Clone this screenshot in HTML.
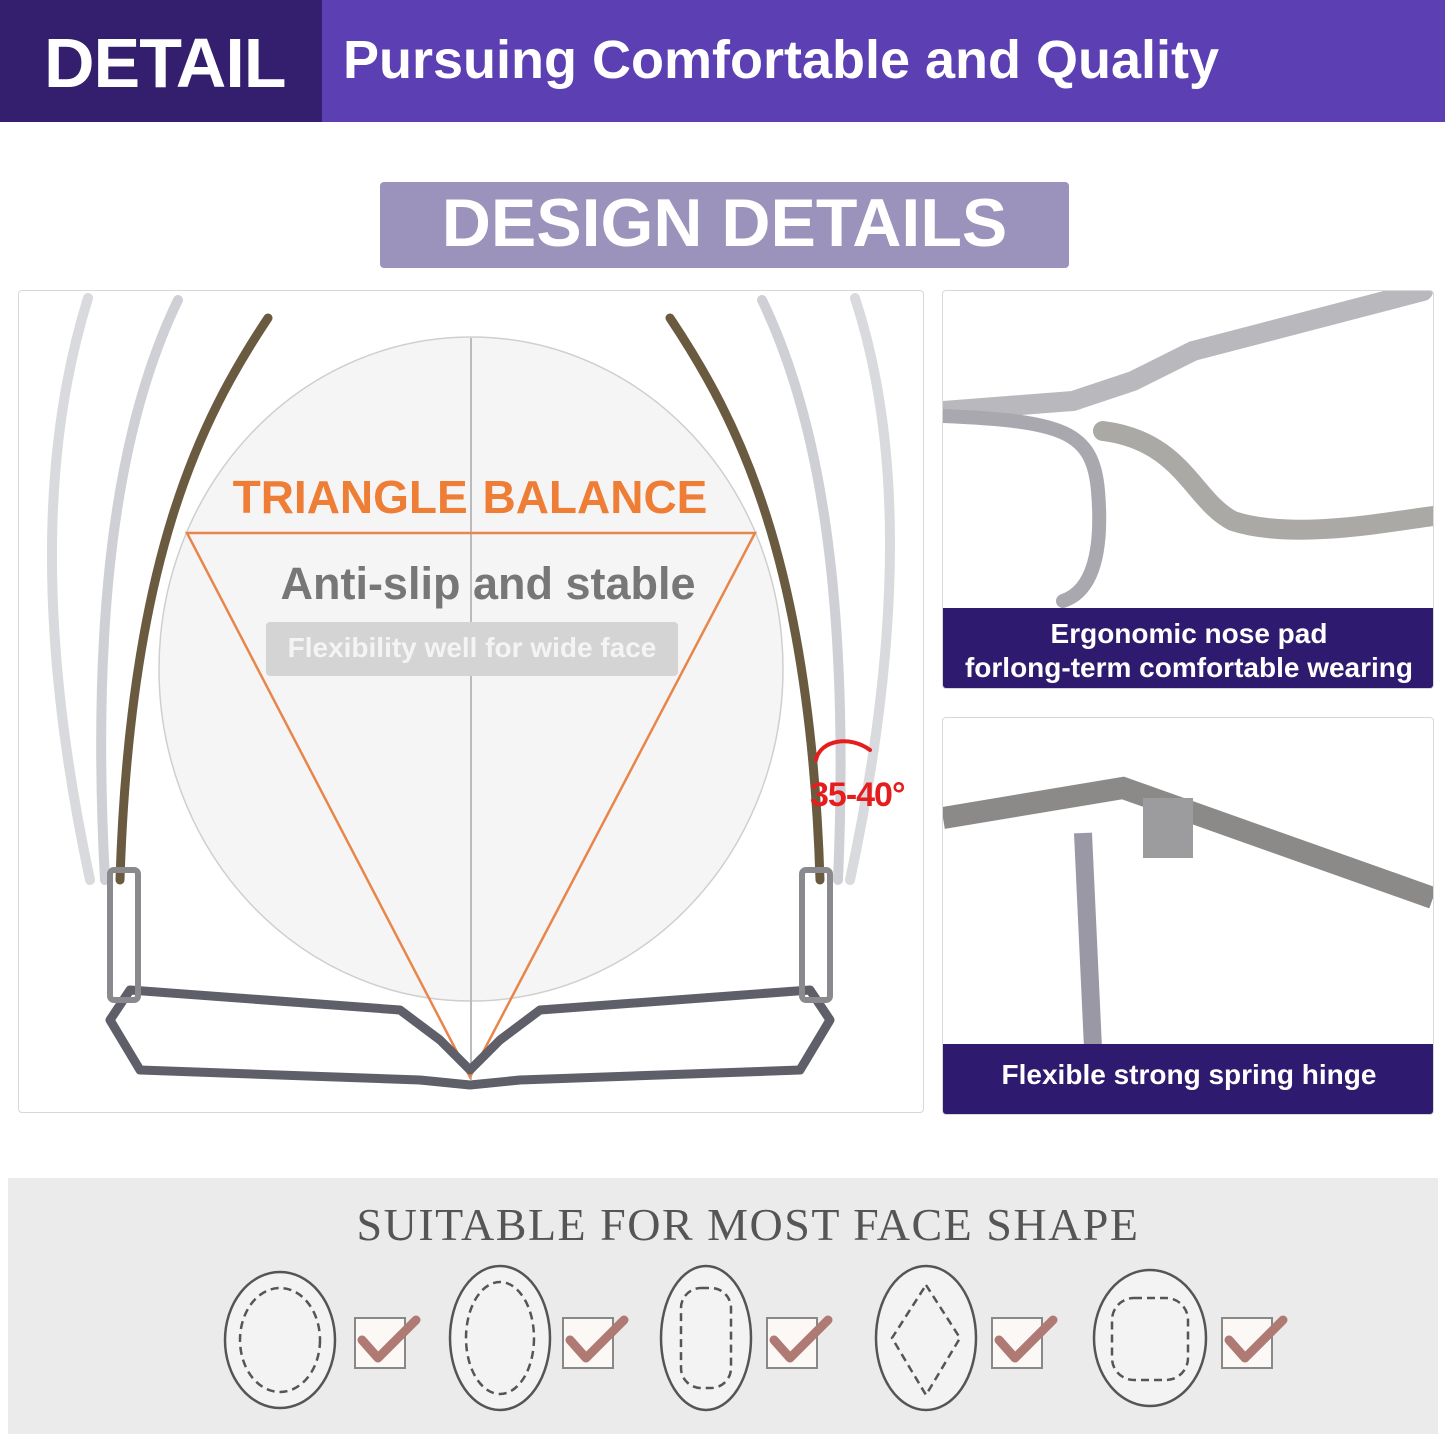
<!DOCTYPE html>
<html><head><meta charset="utf-8"><style>
*{margin:0;padding:0;box-sizing:border-box}
body{width:1445px;height:1435px;background:#fff;position:relative;overflow:hidden;font-family:"Liberation Sans",sans-serif}
.a{position:absolute}
</style></head><body>
<div class="a" style="left:0;top:0;width:322px;height:122px;background:#341e6e"></div>
<div class="a" style="left:322px;top:0;width:1123px;height:122px;background:#5b3fb3"></div>
<div class="a" style="left:44px;top:23px;font-size:70px;font-weight:bold;color:#fff;letter-spacing:-1px">DETAIL</div>
<div class="a" style="left:343px;top:29px;font-size:54px;font-weight:bold;color:#fff">Pursuing Comfortable and Quality</div>

<div class="a" style="left:380px;top:182px;width:689px;height:86px;background:#9b93bb;border-radius:4px"></div>
<div class="a" style="left:380px;top:184px;width:689px;text-align:center;font-size:68px;font-weight:bold;color:#fff">DESIGN DETAILS</div>

<div class="a" style="left:18px;top:290px;width:906px;height:823px;border:1px solid #d8d8d8;border-radius:4px"></div>
<svg class="a" style="left:0;top:0" width="1445" height="1435">
<ellipse cx="471" cy="669" rx="312" ry="332" fill="#f6f5f6" stroke="#cfcfcf" stroke-width="1.5"/>
<line x1="471" y1="338" x2="471" y2="1080" stroke="#bbb" stroke-width="2"/>
<polygon points="187,533 755,533 470,1077" fill="none" stroke="#e8864a" stroke-width="2.5"/>
<g fill="none" stroke-linecap="round">
<path d="M268,318 C200,420 130,560 120,880" stroke="#6a5a40" stroke-width="9"/>
<path d="M178,300 C120,420 90,600 105,880" stroke="#cfd0d5" stroke-width="10"/>
<path d="M88,298 C50,420 30,600 90,880" stroke="#d9dade" stroke-width="10"/>
<path d="M670,318 C738,420 810,560 820,880" stroke="#6a5a40" stroke-width="9"/>
<path d="M762,300 C820,420 850,600 838,880" stroke="#cfd0d5" stroke-width="10"/>
<path d="M855,298 C895,420 910,600 850,880" stroke="#d9dade" stroke-width="10"/>
<path d="M110,1020 L130,990 L400,1010 L440,1040 L470,1070 L500,1040 L540,1010 L810,990 L830,1020 L800,1070 L520,1080 L470,1085 L420,1080 L140,1070 Z" stroke="#5e5f68" stroke-width="9" stroke-linejoin="round"/>
<rect x="110" y="870" width="28" height="130" rx="4" stroke="#8a8a8e" stroke-width="6"/>
<rect x="802" y="870" width="28" height="130" rx="4" stroke="#8a8a8e" stroke-width="6"/>
<path d="M816,760 C820,740 850,735 870,750" stroke="#e51d1d" stroke-width="4"/>
</g>
</svg>
<div class="a" style="left:180px;top:470px;width:580px;text-align:center;font-size:46px;font-weight:bold;color:#ee7d36;word-spacing:2px">TRIANGLE BALANCE</div>
<div class="a" style="left:200px;top:558px;width:576px;text-align:center;font-size:45px;font-weight:bold;color:#777">Anti-slip and stable</div>
<div class="a" style="left:266px;top:622px;width:412px;height:54px;background:#d4d4d4;border-radius:4px"></div>
<div class="a" style="left:266px;top:632px;width:412px;text-align:center;font-size:28px;font-weight:bold;color:#f4f4f4">Flexibility well for wide face</div>
<div class="a" style="left:810px;top:776px;font-size:34px;font-weight:bold;color:#e51d1d;letter-spacing:-1px">35-40°</div>

<div class="a" style="left:942px;top:290px;width:492px;height:399px;border:1px solid #d8d8d8;border-radius:4px;overflow:hidden">
<svg width="492" height="399"><g fill="none" stroke-linecap="round">
<path d="M0,120 L130,110 L190,90 L250,60 L480,0" stroke="#b8b8bd" stroke-width="20"/>
<path d="M0,125 C120,130 150,140 155,200 C160,260 150,300 120,310" stroke="#a8a8ae" stroke-width="14"/>
<path d="M160,140 C240,150 250,210 290,230 C350,250 450,230 490,225" stroke="#aaa9a6" stroke-width="20"/>
</g></svg>
<div class="a" style="left:0;top:317px;width:492px;height:82px;background:#2e1a6e"></div>
<div class="a" style="left:0;top:326px;width:492px;text-align:center;font-size:28px;font-weight:bold;color:#fff;line-height:34px">Ergonomic nose pad<br>forlong-term comfortable wearing</div>
</div>

<div class="a" style="left:942px;top:717px;width:492px;height:398px;border:1px solid #d8d8d8;border-radius:4px;overflow:hidden">
<svg width="492" height="398"><g fill="none">
<path d="M0,100 L180,70 L490,180" stroke="#8c8a88" stroke-width="22"/>
<path d="M140,115 L150,330" stroke="#9a98a4" stroke-width="18"/>
<rect x="200" y="80" width="50" height="60" fill="#9c9c9e"/>
</g></svg>
<div class="a" style="left:0;top:326px;width:492px;height:72px;background:#2e1a6e"></div>
<div class="a" style="left:0;top:341px;width:492px;text-align:center;font-size:28px;font-weight:bold;color:#fff">Flexible strong spring hinge</div>
</div>

<div class="a" style="left:8px;top:1178px;width:1430px;height:256px;background:#ebebeb"></div>
<div class="a" style="left:8px;top:1198px;width:1480px;text-align:center;font-family:'Liberation Serif',serif;font-size:46px;color:#555;letter-spacing:1.5px">SUITABLE FOR MOST FACE SHAPE</div>
<svg class="a" style="left:0;top:0" width="1445" height="1435">
<g fill="#f3f3f3" stroke="#555" stroke-width="2.5">
<ellipse cx="280" cy="1340" rx="55" ry="68"/>
<ellipse cx="500" cy="1338" rx="50" ry="72"/>
<ellipse cx="706" cy="1338" rx="45" ry="72"/>
<ellipse cx="926" cy="1338" rx="50" ry="72"/>
<ellipse cx="1150" cy="1338" rx="56" ry="68"/>
</g>
<g fill="none" stroke="#555" stroke-width="2.5" stroke-dasharray="8 5">
<ellipse cx="280" cy="1340" rx="40" ry="52"/>
<ellipse cx="500" cy="1338" rx="34" ry="56"/>
<rect x="681" y="1288" width="50" height="100" rx="20"/>
<polygon points="926,1285 960,1338 926,1395 892,1338"/>
<rect x="1112" y="1298" width="76" height="82" rx="22"/>
</g>
<g>
<rect x="355" y="1318" width="50" height="50" fill="#fbf8f6" stroke="#888" stroke-width="2"/>
<rect x="563" y="1318" width="50" height="50" fill="#fbf8f6" stroke="#888" stroke-width="2"/>
<rect x="767" y="1318" width="50" height="50" fill="#fbf8f6" stroke="#888" stroke-width="2"/>
<rect x="992" y="1318" width="50" height="50" fill="#fbf8f6" stroke="#888" stroke-width="2"/>
<rect x="1222" y="1318" width="50" height="50" fill="#fbf8f6" stroke="#888" stroke-width="2"/>
<g fill="none" stroke="#b07a74" stroke-width="9" stroke-linecap="round" stroke-linejoin="round">
<path d="M362,1340 L378,1358 L416,1320"/>
<path d="M570,1340 L586,1358 L624,1320"/>
<path d="M774,1340 L790,1358 L828,1320"/>
<path d="M999,1340 L1015,1358 L1053,1320"/>
<path d="M1229,1340 L1245,1358 L1283,1320"/>
</g></g>
</svg>
</body></html>
